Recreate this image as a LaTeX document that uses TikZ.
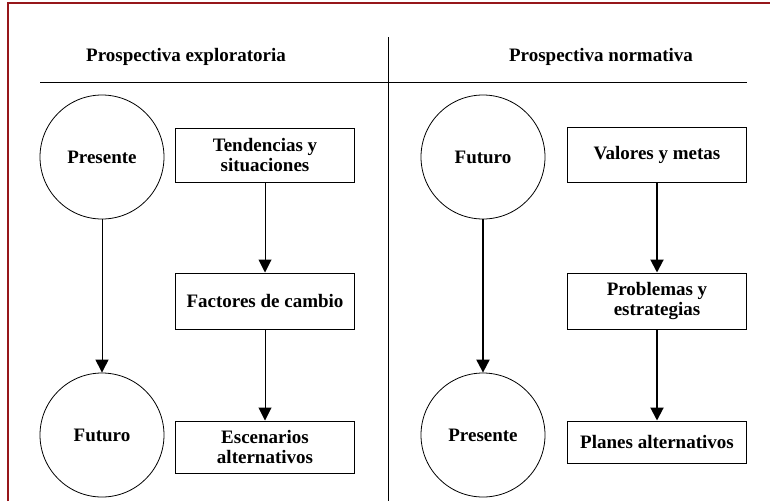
\documentclass[tikz,border=0pt]{standalone}
\usepackage{fontspec}
\setmainfont{Liberation Serif}
\usetikzlibrary{arrows.meta}
\definecolor{framered}{RGB}{150,22,26}

\begin{document}
\begin{tikzpicture}[x=1pt,y=-1pt,font=\fontsize{19}{20}\selectfont\bfseries,
c/.style={draw,circle,line width=.8pt,minimum size=124pt,inner sep=0pt},
b/.style={draw,line width=1pt,align=center,minimum width=179pt,inner sep=0pt},
a/.style={-{Triangle[width=13pt,length=13pt]},line width=1pt},
ab/.style={a,line width=2pt}]
\useasboundingbox (0,0) rectangle (770,501);
\draw[framered,line width=2.5pt] (8,501)--(8,3)--(770,3);
% headers
\node (hl) at (186,57) {Prospectiva exploratoria};
\node (hr) at (601,57) {Prospectiva normativa};
\draw[line width=1pt] (40,82)--(747,82);
\draw[line width=1pt] (388,37)--(388,501);
% exploratoria
\node[c] (pre) at (102,157) {Presente};
\node[c] (fut) at (102,435) {Futuro};
\node[b,minimum height=54pt] (ten) at (265,155) {Tendencias y\\situaciones};
\node[b,minimum height=56pt] (fac) at (265,301) {Factores de cambio};
\node[b,minimum height=52pt] (esc) at (265,447) {Escenarios\\alternativos};
\draw[a] (pre)--(fut);\draw[a] (ten)--(fac);\draw[a] (fac)--(esc);
% normativa
\node[c] (fut2) at (483,157) {Futuro};
\node[c] (pre2) at (483,435) {Presente};
\node[b,minimum height=55pt] (val) at (657,155) {Valores y metas};
\node[b,minimum height=56pt] (pro) at (657,301) {Problemas y\\estrategias};
\node[b,minimum height=42pt] (pla) at (657,442) {Planes alternativos};
\draw[ab] (fut2)--(pre2);\draw[ab] (val)--(pro);\draw[ab] (pro)--(pla);
\end{tikzpicture}
\end{document}
